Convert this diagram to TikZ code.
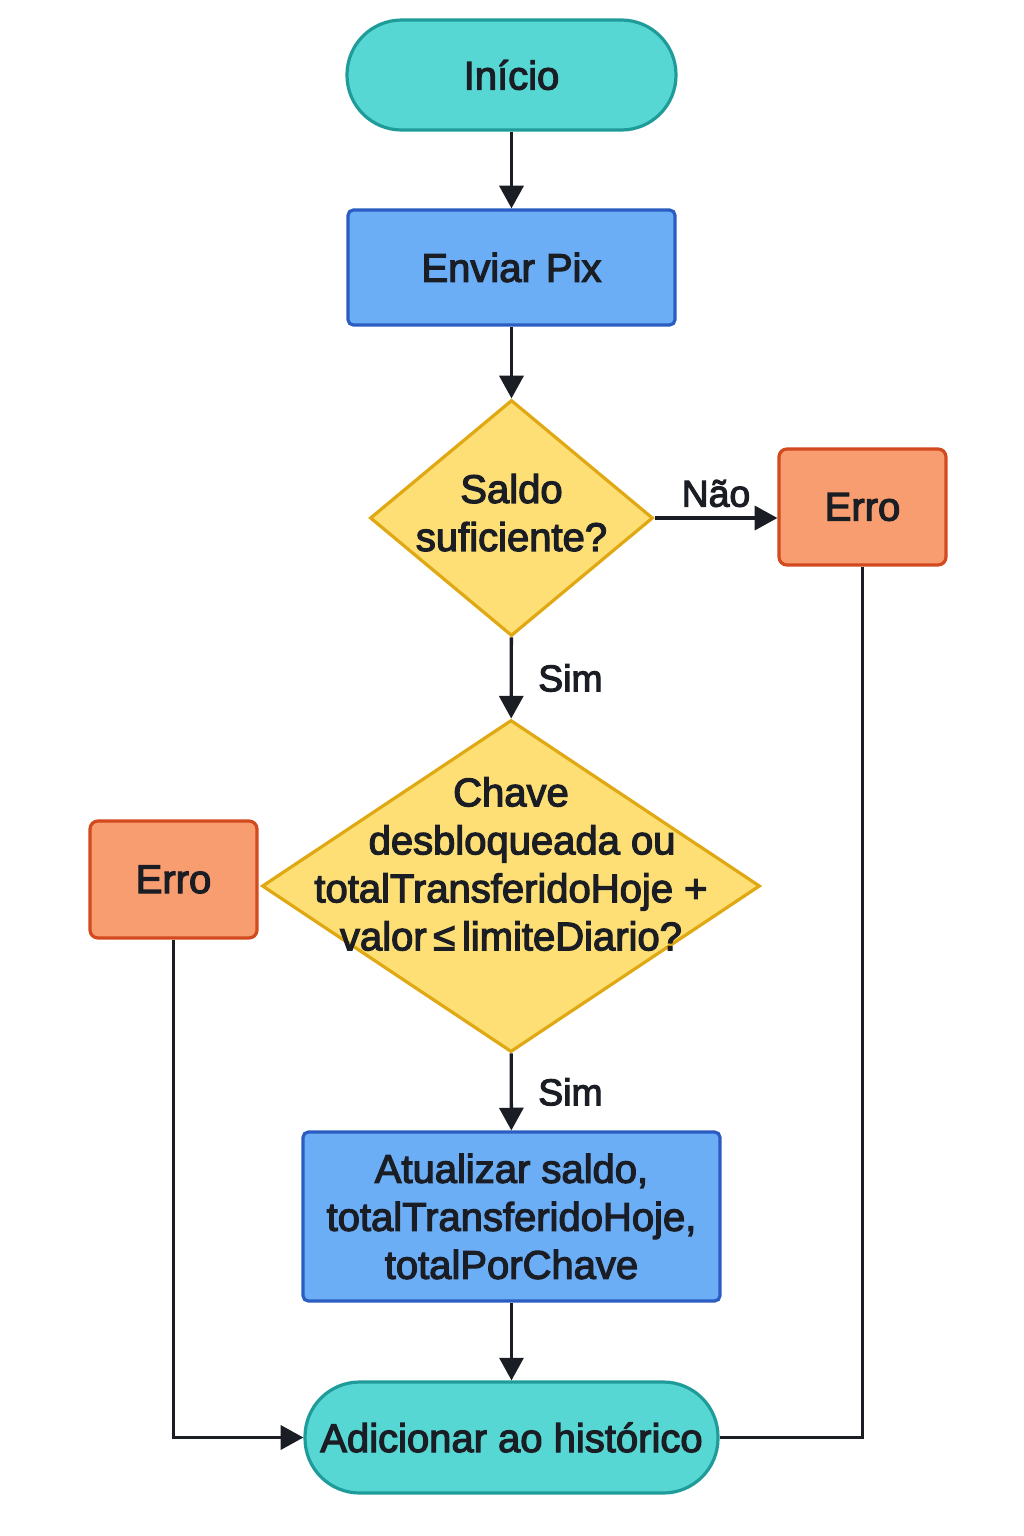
\documentclass[tikz,border=0pt]{standalone}
\usepackage{fontspec}
\setmainfont{Liberation Sans}[FakeBold=3]
\usetikzlibrary{arrows.meta,shapes.geometric}
\definecolor{tealF}{HTML}{56D7D3}
\definecolor{tealD}{HTML}{1F9C9A}
\definecolor{blueF}{HTML}{6BAEF6}
\definecolor{blueD}{HTML}{2A5CC2}
\definecolor{yelF}{HTML}{FDDF76}
\definecolor{yelD}{HTML}{E0A812}
\definecolor{orF}{HTML}{F89D70}
\definecolor{orD}{HTML}{D24A1E}
\definecolor{ink}{HTML}{1B1D24}
\tikzset{
  base/.style={draw, line width=2.4pt, text=ink, font=\fontsize{30}{36}\selectfont, align=center, inner sep=0pt},
  pill/.style={base, draw=tealD, fill=tealF, rounded corners=41pt},
  procbox/.style={base, draw=blueD, fill=blueF, rounded corners=4pt},
  errbox/.style={base, draw=orD, fill=orF, rounded corners=6pt, minimum width=125.25pt, minimum height=87pt},
  decision/.style={base, shape=diamond, draw=yelD, fill=yelF},
  conn/.style={draw=ink, line width=2.5pt},
  arr/.style={conn, -{Triangle[length=17pt,width=18pt]}},
  lbl/.style={text=ink, font=\fontsize{28}{32}\selectfont, inner sep=0pt}
}
\begin{document}
\begin{tikzpicture}[x=0.75pt,y=-0.75pt]
\useasboundingbox (0,0) rectangle (1024,1536);
\node[pill, minimum width=246.75pt, minimum height=82.5pt] (start) at (511.5,75) {Início};
\node[procbox, minimum width=245.25pt, minimum height=86.25pt] (enviar) at (511.5,267.5) {Enviar Pix};
\node[decision, minimum width=212.25pt, minimum height=177pt,
  label={[lbl, font=\fontsize{30}{36}\selectfont, align=center, yshift=4pt]center:{Saldo\\suficiente?}}] (d1) at (511.5,518) {};
\node[errbox] (erro1) at (862.5,507) {Erro};
\node[decision, minimum width=373.5pt, minimum height=249pt,
  label={[lbl, font=\fontsize{30}{36}\selectfont, align=center, yshift=16.5pt]center:{Chave\\\ \ desbloqueada ou\\totalTransferidoHoje +\\valor\,≤\,limiteDiario?}}] (d2) at (511,886) {};
\node[errbox, minimum height=87.75pt] (erro2) at (173.5,879.5) {Erro};
\node[procbox, minimum width=312.75pt, minimum height=126.75pt] (atual) at (511.5,1216.5) {Atualizar saldo,\\totalTransferidoHoje,\\totalPorChave};
\node[pill, minimum width=309.75pt, minimum height=83.25pt] (fim) at (511.5,1437.5) {Adicionar ao histórico};

\draw[arr] (start) -- (enviar);
\draw[arr] (enviar) -- (d1);
\draw[arr] (d1.east) -- (d1.east -| erro1.west) node[lbl, midway, above=7pt] (nao) {Não};
\draw[arr] (d1) -- (d2) node[lbl, pos=0.5, right=19pt] (sim1) {Sim};
\draw[arr] (d2) -- (atual) node[lbl, pos=0.5, right=19pt] (sim2) {Sim};
\draw[arr] (atual) -- (fim);
\draw[arr] (erro2.south) |- (fim.west);
\draw[conn] (erro1.south) |- (fim.east);
\end{tikzpicture}
\end{document}
